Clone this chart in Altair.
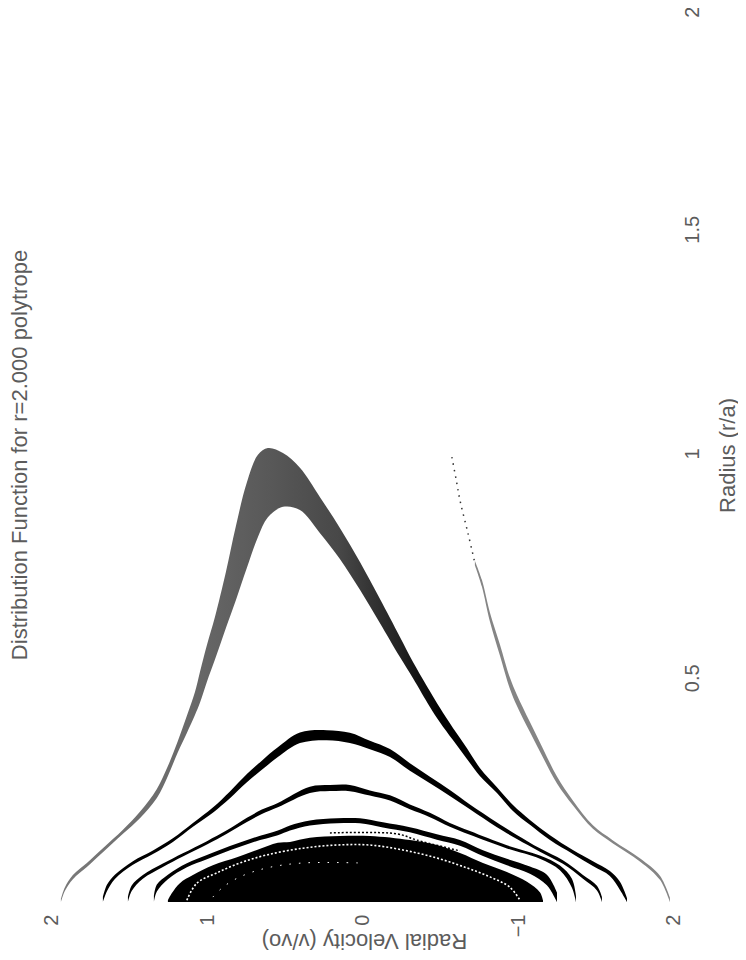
import json
import math
import altair as alt
import pandas as pd

TITLE = "Distribution Function for r=2.000 polytrope"
X_TITLE = "Radial Velocity (v/vo)"
Y_TITLE = "Radius (r/a)"
velocity_ticks = [2, 1, 0, -1, -2]
velocity_tick_labels = ["2", "1", "0", "\u22121", "2"]
radius_ticks = [0.5, 1, 1.5, 1.985]
radius_tick_labels = ["0.5", "1", "1.5", "2"]

# outermost orbit: velocity and the upper and lower edge of its radius
outer_v = [1.942, 1.916, 1.865, 1.775, 1.672, 1.543, 1.434, 1.325, 1.254, 1.190, 1.132, 1.080, 1.048, 1.003, 0.952, 0.881, 0.817, 0.746, 0.675, 0.611, 0.514, 0.405, 0.277, 0.148, 0.019, -0.109, -0.238, -0.322, -0.431, -0.495, -0.579, -0.669, -0.752, -0.862, -0.965, -1.074, -1.203, -1.350, -1.479, -1.588, -1.653, -1.698]
outer_hi = [0.007, 0.033, 0.060, 0.087, 0.120, 0.161, 0.201, 0.252, 0.303, 0.359, 0.415, 0.468, 0.513, 0.573, 0.635, 0.736, 0.838, 0.936, 0.997, 1.012, 1.001, 0.968, 0.903, 0.834, 0.758, 0.676, 0.591, 0.535, 0.470, 0.433, 0.388, 0.343, 0.299, 0.256, 0.216, 0.183, 0.149, 0.116, 0.091, 0.069, 0.045, 0.009]
outer_lo = [0.000, 0.025, 0.051, 0.078, 0.111, 0.152, 0.187, 0.232, 0.281, 0.334, 0.377, 0.417, 0.444, 0.491, 0.540, 0.611, 0.673, 0.745, 0.814, 0.858, 0.881, 0.874, 0.823, 0.765, 0.696, 0.622, 0.546, 0.499, 0.435, 0.401, 0.361, 0.319, 0.281, 0.243, 0.203, 0.172, 0.138, 0.107, 0.080, 0.058, 0.027, 0.000]

# inner orbits: velocity, radius, spread across the curve (velocity units)
hump2_v = [1.672, 1.646, 1.595, 1.479, 1.350, 1.222, 1.093, 0.965, 0.855, 0.746, 0.650, 0.547, 0.405, 0.232, 0.084, -0.045, -0.174, -0.302, -0.431, -0.559, -0.688, -0.862, -0.990, -1.138, -1.286, -1.415, -1.505, -1.537]
hump2_r = [0.004, 0.031, 0.056, 0.087, 0.111, 0.138, 0.172, 0.205, 0.239, 0.276, 0.305, 0.334, 0.366, 0.372, 0.366, 0.350, 0.332, 0.301, 0.272, 0.243, 0.212, 0.172, 0.145, 0.116, 0.089, 0.056, 0.031, 0.004]
hump2_s = [0.019, 0.019, 0.019, 0.019, 0.019, 0.019, 0.019, 0.026, 0.032, 0.039, 0.045, 0.051, 0.064, 0.064, 0.064, 0.051, 0.045, 0.039, 0.035, 0.032, 0.026, 0.026, 0.023, 0.019, 0.019, 0.019, 0.019, 0.019]

hump3_v = [1.511, 1.486, 1.415, 1.286, 1.158, 1.003, 0.875, 0.746, 0.650, 0.547, 0.341, 0.212, 0.084, -0.045, -0.174, -0.302, -0.431, -0.559, -0.688, -0.926, -1.138, -1.267, -1.344, -1.370]
hump3_r = [0.004, 0.031, 0.056, 0.082, 0.105, 0.132, 0.156, 0.183, 0.201, 0.216, 0.250, 0.254, 0.254, 0.243, 0.232, 0.212, 0.194, 0.172, 0.154, 0.123, 0.100, 0.076, 0.042, 0.004]
hump3_s = [0.019, 0.019, 0.019, 0.019, 0.019, 0.019, 0.019, 0.023, 0.026, 0.026, 0.039, 0.039, 0.039, 0.032, 0.032, 0.029, 0.026, 0.023, 0.023, 0.019, 0.019, 0.023, 0.026, 0.026]

hump4_v = [1.344, 1.325, 1.254, 1.132, 1.003, 0.855, 0.707, 0.547, 0.469, 0.341, 0.167, 0.019, -0.129, -0.302, -0.476, -0.624, -0.772, -0.926, -1.074, -1.183, -1.248]
hump4_r = [0.004, 0.031, 0.056, 0.082, 0.100, 0.120, 0.138, 0.154, 0.165, 0.176, 0.181, 0.181, 0.172, 0.161, 0.145, 0.132, 0.109, 0.089, 0.071, 0.049, 0.004]
hump4_s = [0.023, 0.023, 0.023, 0.023, 0.026, 0.026, 0.026, 0.029, 0.032, 0.032, 0.032, 0.032, 0.032, 0.032, 0.035, 0.035, 0.035, 0.039, 0.042, 0.045, 0.045]

# solid core
core_v = [1.254, 1.228, 1.177, 1.093, 0.965, 0.810, 0.682, 0.547, 0.469, 0.341, 0.148, -0.045, -0.302, -0.476, -0.624, -0.772, -0.926, -1.055, -1.138, -1.158]
core_r = [0.004, 0.020, 0.042, 0.060, 0.082, 0.100, 0.116, 0.132, 0.134, 0.143, 0.147, 0.147, 0.138, 0.127, 0.109, 0.087, 0.067, 0.045, 0.022, 0.004]

# speckled rings
ring1_v = [1.132, 1.068, 0.939, 0.791, 0.617, 0.386, 0.167, -0.045, -0.257, -0.476, -0.669, -0.817, -0.945, -1.010]
ring1_r = [0.004, 0.042, 0.065, 0.087, 0.105, 0.120, 0.127, 0.127, 0.116, 0.098, 0.076, 0.056, 0.033, 0.004]
ring2_v = [0.965, 0.900, 0.791, 0.617, 0.386, 0.019]
ring2_r = [0.011, 0.033, 0.056, 0.076, 0.087, 0.087]
ring3_v = [0.212, -0.219, -0.347, -0.624]
ring3_r = [0.154, 0.152, 0.138, 0.114]

# detached right-hand branch
sparse_v = [-0.572, -0.598, -0.624, -0.675, -0.720]
sparse_r = [0.992, 0.945, 0.896, 0.823, 0.756]
branch_v = [-0.720, -0.765, -0.817, -0.881, -0.945, -0.990, -1.074, -1.158, -1.248, -1.350, -1.479, -1.608, -1.781, -1.910, -1.974]
branch_r = [0.756, 0.711, 0.635, 0.562, 0.488, 0.450, 0.390, 0.332, 0.272, 0.221, 0.167, 0.134, 0.094, 0.054, 0.004]
branch_s = [0.013, 0.019, 0.026, 0.032, 0.032, 0.032, 0.029, 0.026, 0.023, 0.019, 0.016, 0.016, 0.016, 0.016, 0.016]

FONT = "Liberation Sans"
INK = "#5c5c5c"
CURVE = "catmull-rom"
V_PX = 155.5
R_PX = 448.5

x_scale = alt.Scale(domain=[2.025, -2.039], nice=False, zero=False)
y_scale = alt.Scale(domain=[0, 1.9933], nice=False, zero=False)

x_axis = alt.Axis(
    values=velocity_ticks,
    labelExpr=f"{json.dumps(velocity_tick_labels)}[indexof({json.dumps(velocity_ticks)}, datum.value)]",
    title=X_TITLE, titleAngle=180, titleFont=FONT, titleFontSize=22, titleFontWeight="normal",
    titleColor=INK, titleY=38, titleBaseline="middle", titleAlign="center",
    labelAngle=270, labelAlign="right", labelBaseline="middle", labelPadding=12,
    labelFont=FONT, labelFontSize=20, labelColor=INK, labelOverlap=False, labelFlush=False,
    domain=False, ticks=False, grid=False,
)
y_axis = alt.Axis(
    orient="right",
    values=radius_ticks,
    labelExpr=f"{json.dumps(radius_tick_labels)}[indexof({json.dumps(radius_ticks)}, datum.value)]",
    title=Y_TITLE, titleAngle=270, titleFont=FONT, titleFontSize=22, titleFontWeight="normal",
    titleColor=INK, titleX=47, titleBaseline="middle", titleAlign="center",
    labelAngle=270, labelAlign="center", labelBaseline="middle", labelPadding=12,
    labelFont=FONT, labelFontSize=20, labelColor=INK, labelOverlap=False, labelFlush=False,
    domain=False, ticks=False, grid=False,
)
X = alt.X("v:Q", scale=x_scale, axis=x_axis)
Y = alt.Y("hi:Q", scale=y_scale, axis=y_axis)


def edges(v, r, s):
    """Turn a curve and its spread across the curve into upper/lower radius edges."""
    hi, lo = [], []
    n = len(v)
    for i in range(n):
        a, b = max(i - 1, 0), min(i + 1, n - 1)
        dx = (v[b] - v[a]) * V_PX
        dy = (r[b] - r[a]) * R_PX
        cos = abs(dx) / math.hypot(dx, dy)
        half = s[i] * V_PX / max(cos, 0.45) / 2 / R_PX
        hi.append(r[i] + half)
        lo.append(max(r[i] - half, 0))
    return hi, lo


def band(v, hi, lo, color):
    df = pd.DataFrame({"v": v, "hi": hi, "lo": lo})
    return alt.Chart(df).mark_area(color=color, orient="vertical", clip=True, interpolate=CURVE).encode(
        x=X, y=Y, y2=alt.Y2("lo:Q"),
    )


def orbit(v, r, s, color="black"):
    hi, lo = edges(v, r, s)
    return band(v, hi, lo, color)


def dotted(v, r, color, width, dash):
    df = pd.DataFrame({"v": v, "hi": r, "i": list(range(len(v)))})
    return alt.Chart(df).mark_line(
        color=color, strokeWidth=width, strokeDash=dash, clip=True, interpolate=CURVE
    ).encode(x=X, y=Y, order=alt.Order("i:Q"))


outer_fill = alt.Gradient(
    gradient="linear", x1=0, x2=1, y1=0, y2=0,
    stops=[
        alt.GradientStop(offset=0, color="#7a7a7a"),
        alt.GradientStop(offset=0.22, color="#6a6a6a"),
        alt.GradientStop(offset=0.37, color="#585858"),
        alt.GradientStop(offset=0.49, color="#484848"),
        alt.GradientStop(offset=0.60, color="#222222"),
        alt.GradientStop(offset=0.67, color="#000000"),
        alt.GradientStop(offset=1, color="#000000"),
    ],
)

chart = alt.layer(
    band(core_v, core_r, [0.0] * len(core_v), "black"),
    dotted(ring1_v, ring1_r, "white", 1.6, [2, 2]),
    dotted(ring2_v, ring2_r, "white", 1, [1.5, 8]),
    dotted(ring3_v, ring3_r, "black", 1.5, [2, 2]),
    orbit(hump4_v, hump4_r, hump4_s),
    orbit(hump3_v, hump3_r, hump3_s),
    orbit(hump2_v, hump2_r, hump2_s),
    band(outer_v, outer_hi, outer_lo, outer_fill),
    dotted(sparse_v, sparse_r, "#333333", 1.5, [1.5, 5]),
    orbit(branch_v, branch_r, branch_s, "#858585"),
).properties(
    width=632,
    height=894,
    title=alt.TitleParams(
        TITLE, orient="left", anchor="middle", angle=270, font=FONT, fontSize=22,
        fontWeight="normal", color=INK, baseline="middle", offset=0,
    ),
    padding={"left": 40, "top": 0, "right": 58, "bottom": 50},
    autosize=alt.AutoSizeParams(type="none"),
    background="white",
).configure_view(stroke=None)

chart.save("out.html", embed_options={"renderer": "svg", "actions": False})
